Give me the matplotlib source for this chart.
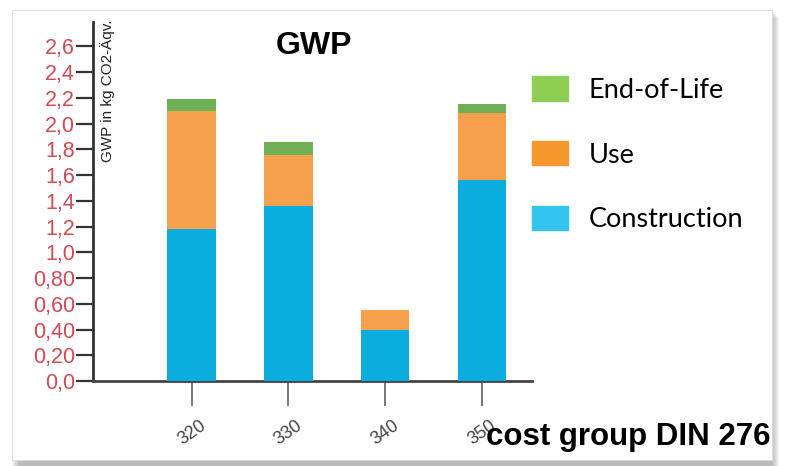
import matplotlib.pyplot as plt
from matplotlib.patches import Patch, Rectangle

# Werte (kg CO2-Äqv.) je Kostengruppe
gruppen = ['320', '330', '340', '350']
construction = [1.18, 1.36, 0.40, 1.56]
use = [0.92, 0.40, 0.15, 0.52]
eol = [0.09, 0.10, 0.0, 0.07]

yticks = [0.0, 0.2, 0.4, 0.6, 0.8, 1.0, 1.2, 1.4, 1.6, 1.8, 2.0, 2.2, 2.4, 2.6]
ytick_labels = ['0,0', '0,20', '0,40', '0,60', '0,80', '1,0', '1,2', '1,4',
                '1,6', '1,8', '2,0', '2,2', '2,4', '2,6']

W, H = 788, 466
fig = plt.figure(figsize=(W / 100, H / 100), dpi=100)

# Rahmen mit Schatten
for i in range(8):
    fig.patches.append(Rectangle(((12 + i) / W, 0 / H), 760 / W, (456 - i) / H,
                                 transform=fig.transFigure, facecolor='0.35',
                                 alpha=0.06, edgecolor='none', zorder=-2))
fig.patches.append(Rectangle((12 / W, 6 / H), 760 / W, 450 / H,
                             transform=fig.transFigure, facecolor='white',
                             edgecolor='0.85', linewidth=0.6, zorder=-1))

ax = fig.add_axes([93 / W, 1 - 381 / H, (532 - 93) / W, (381 - 22) / H])
ax.set_zorder(2)
ax.set_facecolor('none')
x = range(len(gruppen))
c_con = '#0AADDD'
c_use = '#F5A04C'
c_eol = '#6FAF55'
ax.bar(x, construction, width=0.5, color=c_con, zorder=3)
ax.bar(x, use, width=0.5, bottom=construction, color=c_use, zorder=3)
bot2 = [a + b for a, b in zip(construction, use)]
ax.bar(x, eol, width=0.5, bottom=bot2, color=c_eol, zorder=3)

ax.set_xlim(-1.02, 3.52)
ax.set_ylim(0, 2.79)
ax.set_yticks(yticks)
ax.set_yticklabels(ytick_labels, color='#D24A55', fontsize=15.5,
                   family='Liberation Sans')
ax.set_xticks(list(x))
ax.set_xticklabels(gruppen, rotation=35, color='#444444', fontsize=13,
                   family='Liberation Sans')
ax.tick_params(axis='y', length=12, width=1.6, color='#333333', pad=1)
ax.tick_params(axis='x', length=18, width=1.4, color='#777777', pad=8)
for s in ['top', 'right']:
    ax.spines[s].set_visible(False)
ax.spines['left'].set_color('#333333')
ax.spines['left'].set_linewidth(2)
ax.spines['bottom'].set_color('#444444')
ax.spines['bottom'].set_linewidth(2)

fig.text(108 / W, 1 - 20 / H, 'GWP in kg CO2-Äqv.', rotation=90, ha='center',
         va='top', fontsize=11, family='Liberation Sans', color='#222222')
fig.text(314 / W, 1 - 46 / H, 'GWP', ha='center', va='center', fontsize=23,
         fontweight='bold', family='Liberation Sans')
fig.text(771 / W, 1 - 445 / H, 'cost group DIN 276', ha='right', va='baseline',
         fontsize=22.5, fontweight='bold', family='Liberation Sans', zorder=5)

handles = [Patch(color='#8CCF52', label='End-of-Life'),
           Patch(color='#F7982F', label='Use'),
           Patch(color='#35C3EF', label='Construction')]
fig.legend(handles=handles, loc='upper left', bbox_to_anchor=(508 / W, 1 - 52 / H),
           frameon=False, prop={'family': 'Lato', 'size': 19.5},
           handlelength=1.33, handleheight=1.0, labelspacing=1.42,
           handletextpad=0.75)

fig.savefig('out.png', dpi=100)
